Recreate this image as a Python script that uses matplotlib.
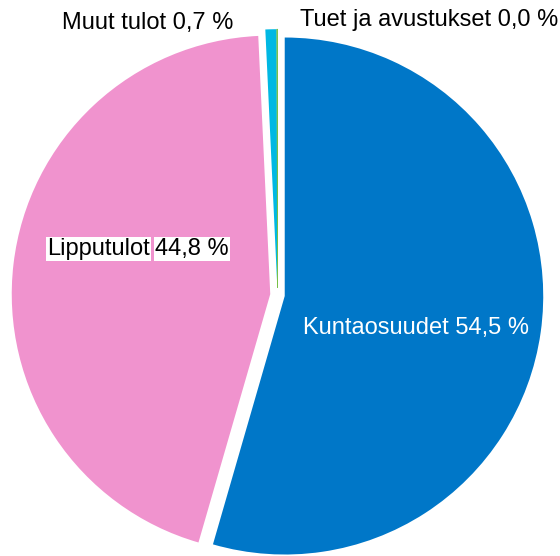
import matplotlib
matplotlib.use("Agg")
import matplotlib.pyplot as plt

# Revenue shares (%)
categories = ["Kuntaosuudet", "Lipputulot", "Muut tulot", "Tuet ja avustukset"]
shares = [54.5, 44.8, 0.7, 0.04]
colors = ["#0077C8", "#F093CE", "#00B8E3", "#78C046"]

plt.rcParams['font.family'] = ['Liberation Sans', 'DejaVu Sans']

fig = plt.figure(figsize=(5.6, 5.56), dpi=100)
ax = fig.add_axes([0, 0, 1, 1])

# explode is an absolute offset here (axes are in pixel units)
wedges, _ = ax.pie(shares, colors=colors, startangle=90, counterclock=False,
                   explode=[7.3] * len(shares), center=(277.5, 261), radius=258.5,
                   wedgeprops=dict(linewidth=0), frame=True)
# the tiny slice is barely visible, give it a thin outline like the original
wedges[3].set_edgecolor(colors[3])
wedges[3].set_linewidth(0.5)
ax.set_xlim(0, 560)
ax.set_ylim(0, 556)
ax.axis("off")

def fmt(v):
    return ("%.1f" % v).replace(".", ",") + " %"

fs = 17
# Kuntaosuudet inside blue slice
ax.text(303, 556 - 328, categories[0] + " " + fmt(shares[0]), color="white",
        fontsize=fs, ha="left", va="center")
# Lipputulot, two white boxes
box = dict(facecolor="white", edgecolor="none", pad=1)
ax.text(150, 556 - 249, categories[1], color="black", fontsize=fs,
        ha="right", va="center", bbox=box)
ax.text(155, 556 - 249, fmt(shares[1]), color="black", fontsize=fs,
        ha="left", va="center", bbox=box)
# outside labels
ax.text(233, 556 - 23, categories[2] + " " + fmt(shares[2]), color="black",
        fontsize=fs, ha="right", va="center")
ax.text(300, 556 - 20, categories[3] + " " + fmt(shares[3]), color="black",
        fontsize=fs, ha="left", va="center")

fig.savefig("out.png", dpi=100)
